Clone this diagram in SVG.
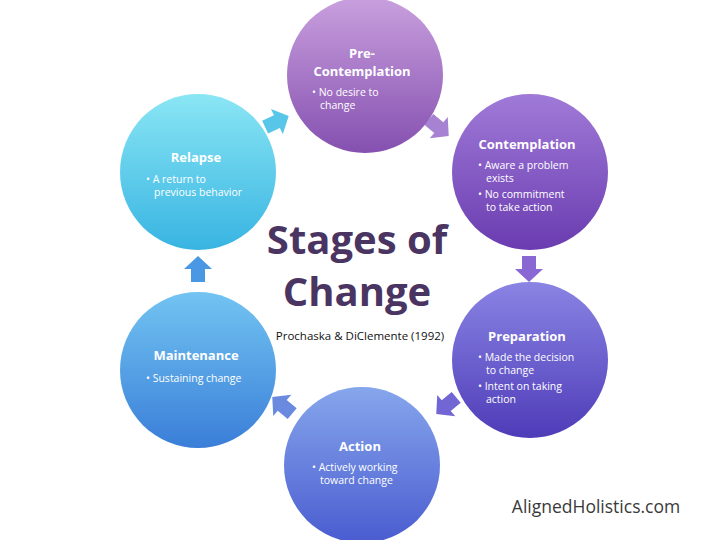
<svg xmlns="http://www.w3.org/2000/svg" width="720" height="540" viewBox="0 0 720 540">
<style>
.h{font-family:"Open Sans","Liberation Sans",sans-serif;font-weight:bold;font-size:13px;fill:#fff;text-anchor:middle}
.b{font-family:"Open Sans","Liberation Sans",sans-serif;font-size:10.5px;fill:#fff}
.t{font-family:"Open Sans","Liberation Sans",sans-serif;font-weight:bold;font-size:40px;fill:#4a3462;text-anchor:middle}
</style>
<defs>
<linearGradient id="g1" x1="0" y1="0" x2="0" y2="1"><stop offset="0" stop-color="#c9a0de"/><stop offset="1" stop-color="#8550b0"/></linearGradient>
<linearGradient id="g2" x1="0" y1="0" x2="0" y2="1"><stop offset="0" stop-color="#a07ad8"/><stop offset="1" stop-color="#6a3cb0"/></linearGradient>
<linearGradient id="g3" x1="0" y1="0" x2="0" y2="1"><stop offset="0" stop-color="#8a84e4"/><stop offset="1" stop-color="#4e3cb8"/></linearGradient>
<linearGradient id="g4" x1="0" y1="0" x2="0" y2="1"><stop offset="0" stop-color="#86a6ec"/><stop offset="1" stop-color="#4a5cd0"/></linearGradient>
<linearGradient id="g5" x1="0" y1="0" x2="0" y2="1"><stop offset="0" stop-color="#72c4f2"/><stop offset="1" stop-color="#3a7ed8"/></linearGradient>
<linearGradient id="g6" x1="0" y1="0" x2="0" y2="1"><stop offset="0" stop-color="#8ae6f4"/><stop offset="1" stop-color="#38b4e2"/></linearGradient>
<path id="ar" d="M-12,-7 L1,-7 L1,-14 L14,0 L1,14 L1,7 L-12,7 Z"/>
</defs>
<rect width="720" height="540" fill="#fff"/>
<g id="connectors">
<use href="#ar" fill="#a782d2" transform="translate(438,127) rotate(40)"/>
<use href="#ar" fill="#8a68d4" transform="translate(529,268) rotate(90)"/>
<use href="#ar" fill="#7266d4" transform="translate(447,405) rotate(140)"/>
<use href="#ar" fill="#6a8ae0" transform="translate(283,406) rotate(220)"/>
<use href="#ar" fill="#4a98e4" transform="translate(198,270) rotate(-90)"/>
<use href="#ar" fill="#58c6e8" transform="translate(276,122) rotate(-25)"/>
</g>
<g id="pre"><circle cx="365" cy="75" r="78" fill="url(#g1)"/>
<text class="h" x="362" y="58">Pre-</text><text class="h" x="362" y="76">Contemplation</text>
<text class="b" x="312" y="96">• No desire to</text><text class="b" x="320" y="109">change</text></g>
<g id="contemplation"><circle cx="530" cy="172" r="78" fill="url(#g2)"/>
<text class="h" x="527" y="149">Contemplation</text>
<text class="b" x="478" y="169">• Aware a problem</text><text class="b" x="486" y="182">exists</text>
<text class="b" x="478" y="198">• No commitment</text><text class="b" x="486" y="211">to take action</text></g>
<g id="preparation"><circle cx="530" cy="360" r="78" fill="url(#g3)"/>
<text class="h" x="527" y="341">Preparation</text>
<text class="b" x="478" y="361">• Made the decision</text><text class="b" x="486" y="374">to change</text>
<text class="b" x="478" y="390">• Intent on taking</text><text class="b" x="486" y="403">action</text></g>
<g id="action"><circle cx="362" cy="465" r="78" fill="url(#g4)"/>
<text class="h" x="360" y="451">Action</text>
<text class="b" x="312" y="471">• Actively working</text><text class="b" x="320" y="484">toward change</text></g>
<g id="maintenance"><circle cx="198" cy="370" r="78" fill="url(#g5)"/>
<text class="h" x="196" y="360">Maintenance</text>
<text class="b" x="146" y="382">• Sustaining change</text></g>
<g id="relapse"><circle cx="198" cy="172" r="78" fill="url(#g6)"/>
<text class="h" x="196" y="162">Relapse</text>
<text class="b" x="146" y="183">• A return to</text><text class="b" x="154" y="196">previous behavior</text></g>
<g id="title">
<text class="t" x="357" y="254">Stages of</text>
<text class="t" x="357" y="306">Change</text>
<text x="360" y="340" font-family="Open Sans,Liberation Sans,sans-serif" font-size="11.5" fill="#111" text-anchor="middle">Prochaska &amp; DiClemente (1992)</text>
<text x="596" y="513" font-family="Open Sans,Liberation Sans,sans-serif" font-size="17.5" fill="#3a3a3a" text-anchor="middle">AlignedHolistics.com</text>
</g>
</svg>
